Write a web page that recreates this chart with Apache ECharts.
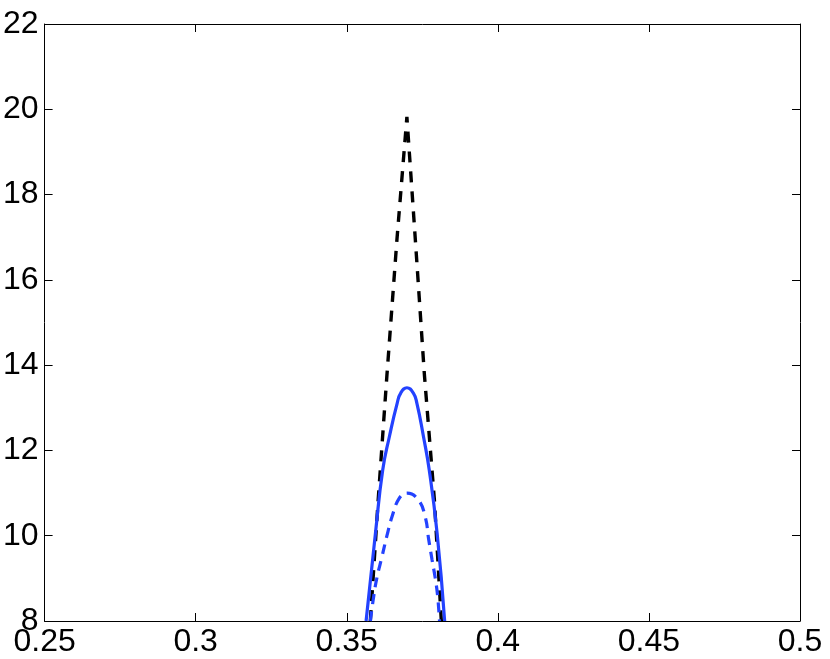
<!DOCTYPE html>
<html>
<head>
<meta charset="utf-8">
<script src="https://cdn.jsdelivr.net/npm/echarts@6/dist/echarts.min.js"></script>
<style>
html,body{margin:0;padding:0;background:#fff;}
#c{width:830px;height:659px;}
</style>
</head>
<body>
<div id="c"></div>
<script>
// tick ranges
var xTicks = [0.25, 0.3, 0.35, 0.4, 0.45, 0.5];
var yTicks = [8, 10, 12, 14, 16, 18, 20, 22];

// Black dashed curve
var blackDashedX = [0.3578, 0.3604, 0.3633, 0.3666, 0.3699, 0.3727, 0.3757, 0.3790, 0.3813];
var blackDashedY = [8.0, 10.84, 13.77, 16.94, 19.82, 16.94, 13.77, 10.84, 8.0];

// Blue solid curve
var blueSolidX = [0.3564, 0.3595, 0.3619, 0.3641, 0.3667, 0.3679, 0.3699, 0.3720, 0.3732, 0.3754, 0.3773, 0.3799, 0.3824];
var blueSolidY = [8.0, 10.06, 11.54, 12.32, 13.11, 13.35, 13.47, 13.35, 13.11, 12.32, 11.54, 10.06, 8.0];

// Blue dashed curve
var blueDashedX = [0.3578, 0.3589, 0.3600, 0.3617, 0.3633, 0.3650, 0.3674, 0.3700, 0.3737, 0.3760, 0.3771, 0.3782, 0.3793, 0.3801, 0.3807];
var blueDashedY = [8.0, 8.57, 9.02, 9.52, 10.0, 10.45, 10.88, 11.0, 10.84, 10.43, 9.92, 9.45, 9.0, 8.57, 8.0];

function zip(xs, ys) { return xs.map(function (x, i) { return [x, ys[i]]; }); }

var FONT = 'Liberation Sans, Arial, Helvetica, sans-serif';
var chart = echarts.init(document.getElementById('c'), null, {renderer: 'canvas'});

var axisLine = {show: true, lineStyle: {color: '#000', width: 1}};
var axisTick = {show: true, inside: true, length: 8, lineStyle: {color: '#000', width: 1}};

chart.setOption({
  animation: false,
  backgroundColor: '#fff',
  grid: {left: 44, right: 30, top: 24, bottom: 38, containLabel: false},
  xAxis: [{
    type: 'value', min: xTicks[0], max: xTicks[xTicks.length - 1], interval: 0.05,
    position: 'bottom',
    axisLine: axisLine, axisTick: axisTick, splitLine: {show: false},
    axisLabel: {fontFamily: FONT, fontSize: 32, color: '#000', margin: 5,
      formatter: function (v) { return String(+v.toFixed(2)); }}
  }, {
    type: 'value', min: xTicks[0], max: xTicks[xTicks.length - 1], interval: 0.05,
    position: 'top',
    axisLine: axisLine, axisTick: axisTick, splitLine: {show: false},
    axisLabel: {show: false}
  }],
  yAxis: [{
    type: 'value', min: yTicks[0], max: yTicks[yTicks.length - 1], interval: 2,
    position: 'left',
    axisLine: axisLine, axisTick: axisTick, splitLine: {show: false},
    axisLabel: {fontFamily: FONT, fontSize: 32, color: '#000', margin: 6}
  }, {
    type: 'value', min: yTicks[0], max: yTicks[yTicks.length - 1], interval: 2,
    position: 'right',
    axisLine: axisLine, axisTick: axisTick, splitLine: {show: false},
    axisLabel: {show: false}
  }],
  series: [{
    type: 'line', data: zip(blackDashedX, blackDashedY), showSymbol: false, symbol: 'none',
    lineStyle: {color: '#000', width: 3.4, type: [11, 9]}, clip: true
  }, {
    type: 'line', data: zip(blueSolidX, blueSolidY), showSymbol: false, symbol: 'none',
    smooth: 0.5,
    lineStyle: {color: '#2342ff', width: 3.2, type: 'solid'}, clip: true
  }, {
    type: 'line', data: zip(blueDashedX, blueDashedY), showSymbol: false, symbol: 'none',
    smooth: 0.45,
    lineStyle: {color: '#2342ff', width: 3.2, type: [10, 7]}, clip: true
  }]
});
</script>
</body>
</html>
